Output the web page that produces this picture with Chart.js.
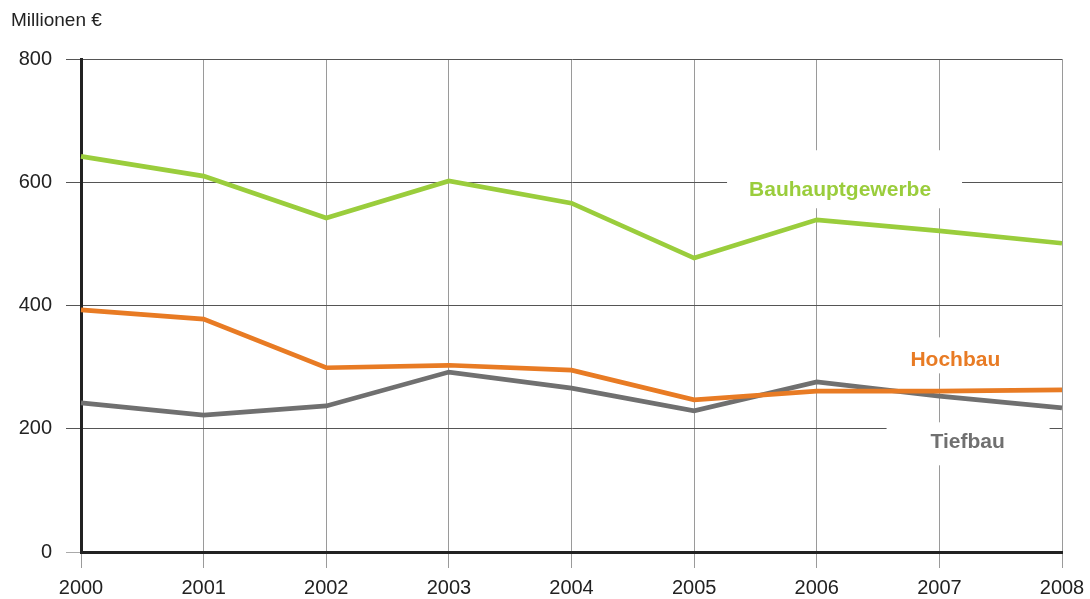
<!DOCTYPE html>
<html><head><meta charset="utf-8">
<script src="https://cdn.jsdelivr.net/npm/chart.js@4/dist/chart.umd.min.js"></script>
<style>html,body{margin:0;padding:0;background:#fff}#wrap{width:1090px;height:599px;position:relative}</style>
</head><body><div id="wrap"><canvas id="c" width="1090" height="599"></canvas></div>
<script>
const years = ['2000','2001','2002','2003','2004','2005','2006','2007','2008'];
const bauhauptgewerbe = [642, 610, 542, 602, 566, 477, 539, 521, 501];
const hochbau = [393, 378, 299, 303, 295, 247, 261, 261, 263];
const tiefbau = [242, 222, 237, 292, 266, 229, 276, 253, 234];
const yTicks = [0, 200, 400, 600, 800];
const unitLabel = 'Millionen €';
const seriesLabels = [
  {text:'Bauhauptgewerbe', color:'#9acd3c', xi:6.19, y:587, box:[-113,-40,122,18]},
  {text:'Hochbau', color:'#e87b24', xi:7.13, y:311, box:[-52,-23,52,13]},
  {text:'Tiefbau', color:'#707070', xi:7.23, y:178, box:[-81,-20,82,23]}
];
const FONT = "'Liberation Sans', Arial, sans-serif";

const labelPlugin = {
  id:'seriesLabels',
  beforeDatasetsDraw(chart){
    const ctx = chart.ctx, xs = chart.scales.x, ys = chart.scales.y;
    ctx.save();
    ctx.font = 'bold 21px ' + FONT;
    ctx.textAlign = 'center'; ctx.textBaseline = 'middle';
    seriesLabels.forEach(l=>{
      const px = xs.getPixelForValue(l.xi), py = ys.getPixelForValue(l.y);
      ctx.fillStyle = '#fff';
      ctx.fillRect(px + l.box[0], py + l.box[1], l.box[2]-l.box[0], l.box[3]-l.box[1]);
      ctx.fillStyle = l.color;
      ctx.fillText(l.text, px, py);
    });
    ctx.restore();
  },
  afterDraw(chart){
    const ctx = chart.ctx;
    ctx.save();
    ctx.font = '19px ' + FONT;
    ctx.fillStyle = '#222';
    ctx.textAlign = 'left'; ctx.textBaseline = 'middle';
    ctx.fillText(unitLabel, 11, 21);
    ctx.restore();
  }
};

new Chart(document.getElementById('c'), {
  type:'line',
  data:{
    labels: years,
    datasets:[
      {data:bauhauptgewerbe, borderColor:'#9acd3c', borderWidth:4.7, pointRadius:0, tension:0},
      {data:hochbau, borderColor:'#e87b24', borderWidth:4.7, pointRadius:0, tension:0},
      {data:tiefbau, borderColor:'#707070', borderWidth:4.7, pointRadius:0, tension:0}
    ]
  },
  options:{
    responsive:false, animation:false,
    layout:{padding:{left:0, right:28, top:59, bottom:0}},
    plugins:{legend:{display:false}, tooltip:{enabled:false}},
    scales:{
      x:{
        offset:false,
        grid:{color:'#9a9a9a', lineWidth:1, tickLength:16, drawTicks:true},
        border:{display:true, color:'#222', width:3},
        ticks:{color:'#222', font:{family:FONT, size:20}, padding:8, maxRotation:0, autoSkip:false},
        afterFit(s){ s.height = 47; s.paddingLeft = 0; s.paddingRight = 0; }
      },
      y:{
        min:0, max:800,
        afterBuildTicks(s){ s.ticks = yTicks.map(v=>({value:v})); },
        grid:{color:(c)=> c.tick && c.tick.value===0 ? '#aaa' : '#555', lineWidth:1, tickLength:15},
        border:{display:true, color:'#222', width:3},
        ticks:{color:'#222', font:{family:FONT, size:20}, padding:14},
        afterFit(s){ s.width = 81; s.paddingTop = 0; s.paddingBottom = 0; }
      }
    }
  },
  plugins:[labelPlugin]
});
</script></body></html>
